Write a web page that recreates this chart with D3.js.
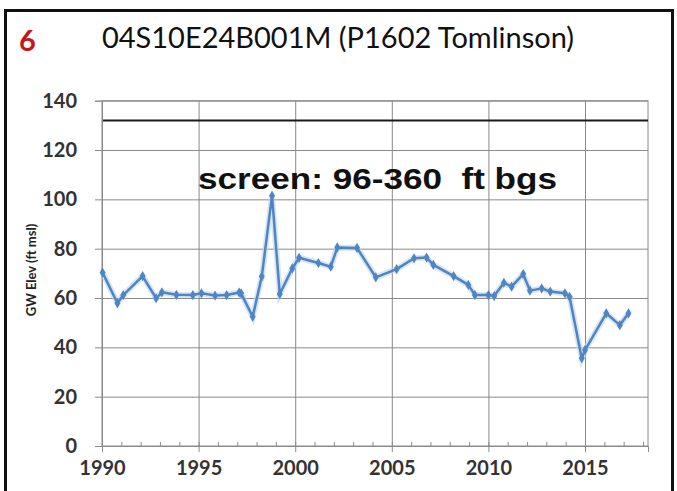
<!DOCTYPE html>
<html>
<head>
<meta charset="utf-8">
<script src="https://cdn.jsdelivr.net/npm/d3@7/dist/d3.min.js"></script>
<style>
body{margin:0;background:#fff;}
</style>
</head>
<body>
<div class="canvas"></div>
<script>
// measured water levels (decimal year, ft msl)
const YEAR=[1990.03,1990.8,1991.1,1992.1,1992.8,1993.1,1993.85,1994.7,1995.15,1995.85,1996.45,1997.1,1997.2,1997.8,1998.27,1998.8,1999.2,1999.85,2000.2,2001.2,2001.84,2002.18,2003.2,2004.17,2005.25,2006.15,2006.8,2007.15,2008.2,2008.96,2009.3,2010.0,2010.3,2010.8,2011.2,2011.8,2012.15,2012.76,2013.2,2013.96,2014.2,2014.83,2015.0,2016.1,2016.8,2017.25];
const ELEV=[70.3,57.9,61.2,68.9,59.9,62.3,61.3,61.2,61.9,61,61.2,62.2,61.9,52.4,68.7,101.5,61.6,72,76.3,74.2,72.7,80.5,80.3,68.4,71.7,76.1,76.4,73.4,68.9,65.3,61.2,61.2,60.8,66.2,64.6,69.7,63,63.9,62.6,61.9,60.5,35.6,38.9,53.8,49,53.8];
const yTicks=[0,20,40,60,80,100,120,140];
const xTicks=[1990,1995,2000,2005,2010,2015];
const minorTicks=d3.range(1990,2019);
const groundLine=132;
const wellNo="6";
const title="04S10E24B001M (P1602 Tomlinson)";
const note="screen: 96-360\u00a0 ft bgs";

const canvasWidth=677,canvasHeight=491;
const plotL=102,plotR=648,plotT=100.7,plotB=446;
const labelFont="Lato, 'Open Sans', sans-serif";

const svg=d3.select(".canvas").append("svg")
  .attr("width",canvasWidth)
  .attr("height",canvasHeight)
  .style("display","block");

// outer frame
svg.append("rect")
  .attr("x",5.5).attr("y",10.5)
  .attr("width",667).attr("height",500)
  .attr("fill","none").attr("stroke","#111").attr("stroke-width",3);

const xScale=d3.scaleLinear().domain([1990,2018.26]).range([plotL,plotR]);
const yScale=d3.scaleLinear().domain([0,140]).range([plotB,plotT]);

// grid
svg.append("g").attr("transform",`translate(0,${plotB})`)
  .call(d3.axisBottom(xScale).tickValues(xTicks).tickSize(-(plotB-plotT)).tickFormat(""))
  .call(g=>g.select(".domain").remove())
  .selectAll("line").attr("stroke","#8a8a8a");
svg.append("g").attr("transform",`translate(${plotL},0)`)
  .call(d3.axisLeft(yScale).tickValues(yTicks).tickSize(-(plotR-plotL)).tickFormat(""))
  .call(g=>g.select(".domain").remove())
  .selectAll("line").attr("stroke","#8a8a8a");
svg.append("rect")
  .attr("x",plotL).attr("y",plotT).attr("width",plotR-plotL).attr("height",plotB-plotT)
  .attr("fill","none").attr("stroke","#8a8a8a");

// ground surface line
svg.append("line")
  .attr("x1",plotL).attr("x2",plotR)
  .attr("y1",yScale(groundLine)).attr("y2",yScale(groundLine))
  .attr("stroke","#1a1a1a").attr("stroke-width",2);

// y axis
const yAxis=svg.append("g").attr("transform",`translate(${plotL},0)`)
  .call(d3.axisLeft(yScale).tickValues(yTicks).tickSize(7).tickPadding(18));
yAxis.select(".domain").attr("stroke","#8a8a8a");
yAxis.selectAll("line").attr("stroke","#8a8a8a");
yAxis.selectAll("text")
  .style("font-family",labelFont)
  .style("font-weight","bold").style("font-size","20px").attr("fill","#333");

// x axis
svg.append("g").attr("transform",`translate(0,${plotB})`)
  .call(d3.axisBottom(xScale).tickValues(minorTicks).tickSize(-4).tickFormat(""))
  .call(g=>g.select(".domain").remove())
  .selectAll("line").attr("stroke","#8a8a8a");
const xAxis=svg.append("g").attr("transform",`translate(0,${plotB})`)
  .call(d3.axisBottom(xScale).tickValues(xTicks).tickSize(6).tickFormat(d3.format("d")));
xAxis.select(".domain").attr("stroke","#8a8a8a");
xAxis.selectAll("line").attr("stroke","#8a8a8a");
xAxis.selectAll("text")
  .attr("y",29).attr("dy",0)
  .style("font-family",labelFont)
  .style("font-weight","bold").style("font-size","20px").attr("fill","#333");

// series
const dataset=YEAR.map((yr,i)=>[xScale(yr),yScale(ELEV[i])]);
const line=d3.line();
svg.append("path").attr("d",line(dataset))
  .attr("fill","none").attr("stroke","#bcd4ee").attr("stroke-width",6).attr("opacity",0.6);
svg.append("path").attr("d",line(dataset))
  .attr("fill","none").attr("stroke","#4f85c2").attr("stroke-width",2.5)
  .attr("stroke-linejoin","round");
svg.selectAll(".pt").data(dataset).enter()
  .append("path").attr("class","pt")
  .attr("transform",d=>`translate(${d[0]},${d[1]})`)
  .attr("d",d3.symbol(d3.symbolDiamond,30))
  .attr("fill","#4f85c2");

// texts
svg.append("text").attr("x",19).attr("y",51)
  .style("font-family","Lato, sans-serif").style("font-weight","bold")
  .style("font-size","29px").attr("fill","#c4161c").text(wellNo);
svg.append("text").attr("x",338).attr("y",48).attr("text-anchor","middle")
  .style("font-family","Lato, sans-serif")
  .style("font-size","29px").attr("fill","#111").text(title);
svg.append("text").attr("x",198).attr("y",189)
  .attr("textLength",359).attr("lengthAdjust","spacingAndGlyphs")
  .style("font-family","'Liberation Sans', Arial, sans-serif").style("font-weight","bold")
  .style("font-size","30px").attr("fill","#111").text(note);
svg.append("text")
  .attr("transform",`translate(36,270) rotate(-90)`)
  .attr("text-anchor","middle")
  .style("font-family","Lato, sans-serif").style("font-weight","bold")
  .style("font-size","13px").attr("fill","#222").text("GW Elev (ft msl)");
</script>
</body>
</html>
